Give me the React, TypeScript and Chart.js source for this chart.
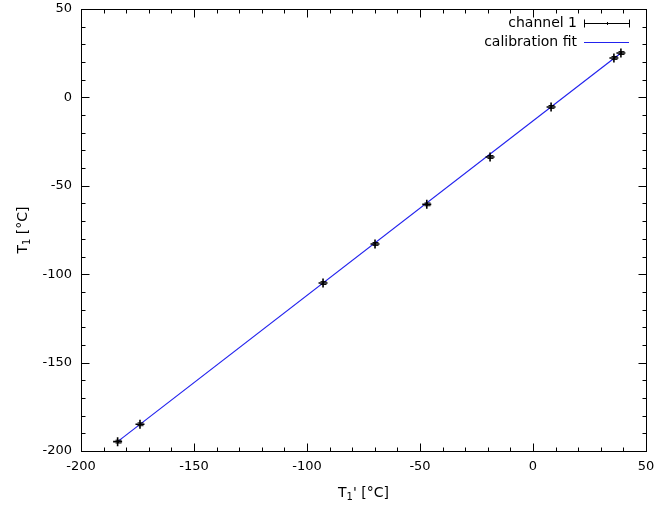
import React, { useEffect, useRef } from "react";
import { Chart, registerables } from "chart.js";

Chart.register(...registerables);

// Measured channel 1 temperatures: reference T1' vs. sensor T1 (°C)
const tRef: number[] = [-183.8, -173.9, -92.9, -69.9, -47.0, -19.0, 8.0, 35.8, 38.9];
const tMeas: number[] = [-194.7, -184.9, -105.0, -82.9, -60.5, -33.7, -5.4, 22.3, 25.1];
const tErr: number[] = [0.8, 0.8, 0.8, 0.8, 0.8, 0.8, 0.8, 0.8, 0.8];

// Linear calibration fit T1 = slope * T1' + offset
const fitSlope = 0.987;
const fitOffset = -13.3;

const axisMin = -200;
const axisMax = 50;
const majorStep = 50;
const minorStep = 10;

const seriesLabels = ["channel 1", "calibration fit"];
// axis titles: [base, subscript, rest]
const xTitle = ["T", "1", "' [°C]"];
const yTitle = ["T", "1", " [°C]"];

const FONT = "DejaVu Sans";
const FIT_COLOR = "#2222ee";

function drawSubTitle(ctx: CanvasRenderingContext2D, parts: string[], cx: number, cy: number) {
  const big = `14px "${FONT}"`;
  const small = `10px "${FONT}"`;
  ctx.font = big;
  const w0 = ctx.measureText(parts[0]).width;
  const w2 = ctx.measureText(parts[2]).width;
  ctx.font = small;
  const w1 = ctx.measureText(parts[1]).width;
  let x = cx - (w0 + w1 + w2) / 2;
  ctx.textAlign = "left";
  ctx.textBaseline = "alphabetic";
  const base = cy + 5;
  ctx.font = big;
  ctx.fillText(parts[0], x, base);
  x += w0;
  ctx.font = small;
  ctx.fillText(parts[1], x, base + 3);
  x += w1;
  ctx.font = big;
  ctx.fillText(parts[2], x, base);
}

const framePlugin = {
  id: "gnuFrame",
  afterDatasetsDraw(chart: any) {
    const { ctx, chartArea: a, scales } = chart;
    const xs = scales.x;
    const ys = scales.y;
    ctx.save();

    // error bars on the measured points
    ctx.strokeStyle = "#000";
    ctx.lineWidth = 1;
    tRef.forEach((xv, i) => {
      const px = Math.round(xs.getPixelForValue(xv)) + 0.5;
      const y1 = ys.getPixelForValue(tMeas[i] - tErr[i]);
      const y2 = ys.getPixelForValue(tMeas[i] + tErr[i]);
      ctx.beginPath();
      ctx.moveTo(px, y1);
      ctx.lineTo(px, y2);
      ctx.moveTo(px - 3, y1);
      ctx.lineTo(px + 3, y1);
      ctx.moveTo(px - 3, y2);
      ctx.lineTo(px + 3, y2);
      ctx.stroke();
    });

    // border box
    ctx.strokeStyle = "#000";
    ctx.lineWidth = 1;
    const L = Math.round(a.left) + 0.5;
    const R = Math.round(a.right) + 0.5;
    const T = Math.round(a.top) + 0.5;
    const B = Math.round(a.bottom) + 0.5;
    ctx.strokeRect(L, T, R - L, B - T);

    // inward ticks on all four sides
    ctx.beginPath();
    for (let v = axisMin; v <= axisMax + 1e-9; v += minorStep) {
      const major = Math.abs(v % majorStep) < 1e-9;
      const len = major ? 8 : 4;
      const px = Math.round(xs.getPixelForValue(v)) + 0.5;
      ctx.moveTo(px, B);
      ctx.lineTo(px, B - len);
      ctx.moveTo(px, T);
      ctx.lineTo(px, T + len);
      const py = Math.round(ys.getPixelForValue(v)) + 0.5;
      ctx.moveTo(L, py);
      ctx.lineTo(L + len, py);
      ctx.moveTo(R, py);
      ctx.lineTo(R - len, py);
    }
    ctx.stroke();

    // key
    ctx.font = `14px "${FONT}"`;
    ctx.fillStyle = "#000";
    ctx.textAlign = "right";
    ctx.textBaseline = "middle";
    const keyTextX = a.right - 69;
    const keyY1 = a.top + 14;
    const keyY2 = a.top + 33;
    const sx1 = a.right - 62;
    const sx2 = a.right - 17;
    ctx.fillText(seriesLabels[0], keyTextX, keyY1);
    ctx.fillText(seriesLabels[1], keyTextX, keyY2);

    const ky1 = Math.round(keyY1) + 0.5;
    ctx.beginPath();
    ctx.moveTo(sx1, ky1);
    ctx.lineTo(sx2, ky1);
    ctx.moveTo(Math.round(sx1) + 0.5, ky1 - 4);
    ctx.lineTo(Math.round(sx1) + 0.5, ky1 + 4);
    ctx.moveTo(Math.round(sx2) + 0.5, ky1 - 4);
    ctx.lineTo(Math.round(sx2) + 0.5, ky1 + 4);
    const mid = Math.round((sx1 + sx2) / 2) + 0.5;
    ctx.moveTo(mid, ky1 - 1.5);
    ctx.lineTo(mid, ky1 + 1.5);
    ctx.stroke();

    const ky2 = Math.round(keyY2) + 0.5;
    ctx.strokeStyle = FIT_COLOR;
    ctx.beginPath();
    ctx.moveTo(sx1, ky2);
    ctx.lineTo(sx2, ky2);
    ctx.stroke();

    // axis titles
    ctx.fillStyle = "#000";
    drawSubTitle(ctx, xTitle, (a.left + a.right) / 2, 492);
    ctx.translate(22, (a.top + a.bottom) / 2);
    ctx.rotate(-Math.PI / 2);
    drawSubTitle(ctx, yTitle, 0, 0);

    ctx.restore();
  },
};

export default function App() {
  const canvasRef = useRef<HTMLCanvasElement | null>(null);

  useEffect(() => {
    const canvas = canvasRef.current;
    if (!canvas) return;
    Chart.defaults.font.family = FONT;

    const points = tRef.map((x, i) => ({ x, y: tMeas[i] }));
    const xLo = Math.min(...tRef);
    const xHi = Math.max(...tRef);
    const fitLine = [xLo, xHi].map((x) => ({ x, y: fitSlope * x + fitOffset }));

    const chart = new Chart(canvas, {
      type: "scatter",
      data: {
        datasets: [
          {
            label: seriesLabels[1],
            data: fitLine,
            showLine: true,
            borderColor: FIT_COLOR,
            borderWidth: 1.2,
            pointRadius: 0,
            order: 2,
          },
          {
            label: seriesLabels[0],
            data: points,
            showLine: false,
            pointStyle: "cross",
            pointRadius: 4.5,
            borderColor: "#000",
            backgroundColor: "#000",
            borderWidth: 1.6,
            order: 1,
          },
        ],
      },
      options: {
        animation: false,
        responsive: false,
        maintainAspectRatio: false,
        layout: { padding: { top: 9, right: 10, left: 0, bottom: 0 } },
        plugins: {
          legend: { display: false },
          tooltip: { enabled: false },
        },
        scales: {
          x: {
            type: "linear",
            min: axisMin,
            max: axisMax,
            ticks: {
              stepSize: majorStep,
              color: "#000",
              font: { size: 13, family: FONT },
              padding: 8,
            },
            grid: { display: false, drawTicks: false },
            border: { display: false },
            afterFit: (s: any) => {
              s.height = 57;
              s.paddingLeft = 0;
              s.paddingRight = 0;
            },
          },
          y: {
            type: "linear",
            min: axisMin,
            max: axisMax,
            ticks: {
              stepSize: majorStep,
              color: "#000",
              font: { size: 13, family: FONT },
              padding: 9,
            },
            grid: { display: false, drawTicks: false },
            border: { display: false },
            afterFit: (s: any) => {
              s.width = 81;
              s.paddingTop = 0;
              s.paddingBottom = 0;
            },
          },
        },
      },
      plugins: [framePlugin],
    });

    return () => chart.destroy();
  }, []);

  return (
    <div style={{ position: "fixed", left: 0, top: 0, width: 656, height: 508, background: "#fff" }}>
      <canvas ref={canvasRef} width={656} height={508} style={{ width: 656, height: 508, display: "block" }} />
    </div>
  );
}
